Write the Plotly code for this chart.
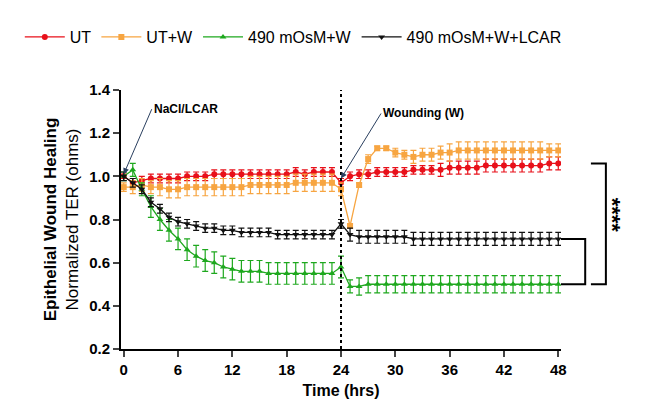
import plotly.graph_objects as go

hours = list(range(49))

ut = [1.00, 0.97, 0.98, 0.99, 0.99, 0.99, 0.99, 1.00, 1.00, 1.00, 1.01, 1.01, 1.01, 1.01, 1.01, 1.01, 1.01, 1.01, 1.01, 1.02, 1.01, 1.02, 1.02, 1.02, 0.97,
      1.00, 1.01, 1.01, 1.02, 1.02, 1.02, 1.02, 1.03, 1.03, 1.03, 1.03, 1.04, 1.04, 1.04, 1.04, 1.05, 1.05, 1.05, 1.05, 1.05, 1.05, 1.05, 1.06, 1.06]
ut_err = [0.01, 0.02, 0.02, 0.02, 0.02, 0.02, 0.02, 0.02, 0.02, 0.02, 0.02, 0.02, 0.02, 0.02, 0.02, 0.02, 0.02, 0.02, 0.02, 0.02, 0.02, 0.02, 0.02, 0.02, 0.02,
          0.02, 0.02, 0.02, 0.02, 0.02, 0.02, 0.02, 0.02, 0.02, 0.02, 0.03, 0.03, 0.03, 0.03, 0.03, 0.03, 0.03, 0.03, 0.03, 0.03, 0.03, 0.03, 0.03, 0.03]

ut_w = [0.95, 0.95, 0.96, 0.95, 0.95, 0.94, 0.94, 0.95, 0.95, 0.95, 0.95, 0.95, 0.95, 0.95, 0.96, 0.96, 0.96, 0.96, 0.96, 0.97, 0.97, 0.97, 0.97, 0.97, 0.94,
        0.77, 0.96, 1.08, 1.13, 1.13, 1.11, 1.10, 1.09, 1.10, 1.10, 1.11, 1.11, 1.12, 1.12, 1.12, 1.12, 1.12, 1.12, 1.12, 1.12, 1.12, 1.12, 1.12, 1.12]
ut_w_err = [0.02, 0.03, 0.03, 0.03, 0.04, 0.04, 0.04, 0.04, 0.04, 0.04, 0.04, 0.04, 0.04, 0.04, 0.04, 0.04, 0.04, 0.04, 0.04, 0.04, 0.04, 0.04, 0.04, 0.04, 0.03,
            0.01, 0.01, 0.02, 0.01, 0.01, 0.02, 0.02, 0.03, 0.03, 0.03, 0.03, 0.04, 0.04, 0.04, 0.04, 0.04, 0.04, 0.04, 0.04, 0.04, 0.04, 0.04, 0.03, 0.03]

osm = [1.00, 1.03, 0.94, 0.86, 0.80, 0.75, 0.71, 0.66, 0.63, 0.61, 0.60, 0.58, 0.57, 0.56, 0.56, 0.56, 0.55, 0.55, 0.55, 0.55, 0.55, 0.55, 0.55, 0.55, 0.58,
       0.49, 0.49, 0.50, 0.50, 0.50, 0.50, 0.50, 0.50, 0.50, 0.50, 0.50, 0.50, 0.50, 0.50, 0.50, 0.50, 0.50, 0.50, 0.50, 0.50, 0.50, 0.50, 0.50, 0.50]
osm_err = [0.02, 0.03, 0.03, 0.05, 0.05, 0.05, 0.05, 0.05, 0.05, 0.05, 0.05, 0.05, 0.05, 0.05, 0.05, 0.05, 0.05, 0.05, 0.05, 0.05, 0.05, 0.05, 0.05, 0.05, 0.05,
           0.03, 0.04, 0.04, 0.04, 0.04, 0.04, 0.04, 0.04, 0.04, 0.04, 0.04, 0.04, 0.04, 0.04, 0.04, 0.04, 0.04, 0.04, 0.04, 0.04, 0.04, 0.04, 0.04, 0.04]

lcar = [1.00, 0.97, 0.94, 0.88, 0.85, 0.81, 0.79, 0.78, 0.77, 0.76, 0.76, 0.75, 0.75, 0.74, 0.74, 0.74, 0.74, 0.73, 0.73, 0.73, 0.73, 0.73, 0.73, 0.73, 0.78,
        0.73, 0.72, 0.72, 0.72, 0.72, 0.72, 0.72, 0.71, 0.71, 0.71, 0.71, 0.71, 0.71, 0.71, 0.71, 0.71, 0.71, 0.71, 0.71, 0.71, 0.71, 0.71, 0.71, 0.71]
lcar_err = [0.02, 0.02, 0.02, 0.02, 0.02, 0.02, 0.02, 0.02, 0.02, 0.02, 0.02, 0.02, 0.02, 0.02, 0.02, 0.02, 0.02, 0.02, 0.02, 0.02, 0.02, 0.02, 0.02, 0.02, 0.02,
            0.03, 0.03, 0.03, 0.03, 0.03, 0.03, 0.03, 0.03, 0.03, 0.03, 0.03, 0.03, 0.03, 0.03, 0.03, 0.03, 0.03, 0.03, 0.03, 0.03, 0.03, 0.03, 0.03, 0.03]

x_ticks = list(range(0, 49, 6))
y_ticks = [0.2, 0.4, 0.6, 0.8, 1.0, 1.2, 1.4]

series = [
    ("UT", ut, ut_err, "#e8101a", "circle"),
    ("UT+W", ut_w, ut_w_err, "#f7a541", "square"),
    ("490 mOsM+W", osm, osm_err, "#1ea81e", "triangle-up"),
    ("490 mOsM+W+LCAR", lcar, lcar_err, "#111111", "triangle-down"),
]

fig = go.Figure()
for name, y, err, col, sym in series:
    fig.add_trace(go.Scatter(
        x=hours, y=y, name=name, mode="lines+markers",
        line=dict(color=col, width=1.3),
        marker=dict(color=col, symbol=sym, size=6),
        error_y=dict(type="data", array=err, color=col, thickness=1.2, width=3),
    ))

# wounding line
fig.add_shape(type="line", x0=24, x1=24, y0=0.2, y1=1.4, xref="x", yref="y",
              line=dict(color="black", width=2, dash="dot"))

# significance brackets, x in paper coords so they sit right of the plot
def bracket(x0, x1, y0, y1):
    fig.add_shape(type="path", xref="paper", yref="paper",
                  path=f"M {x0},{y0} L {x1},{y0} L {x1},{y1} L {x0},{y1}",
                  line=dict(color="black", width=2))

def ypap(v):
    return (v - 0.2) / 1.2

bracket(1.0, 1.055, ypap(0.71), ypap(0.50))
bracket(1.068, 1.102, ypap(1.06), ypap(0.50))

fig.add_annotation(x=1.15, y=ypap(0.82), xref="paper", yref="paper", text="<b>****</b>", textangle=90,
                   showarrow=False, font=dict(size=22, color="black"))

fig.add_annotation(x=0, y=1.01, ax=28, ay=-65, text="<b>NaCl/LCAR</b>", showarrow=True,
                   arrowhead=2, arrowsize=1.2, arrowwidth=1, xanchor="left",
                   font=dict(size=12, color="black", family="Arial"))
fig.add_annotation(x=24, y=0.99, ax=40, ay=-65, text="<b>Wounding (W)</b>", showarrow=True,
                   arrowhead=2, arrowsize=1.2, arrowwidth=1, xanchor="left",
                   font=dict(size=12, color="black", family="Arial"))

fig.update_layout(
    width=668, height=414,
    margin=dict(l=113, r=115, t=70, b=73),
    paper_bgcolor="white", plot_bgcolor="white",
    font=dict(family="Arial", size=14, color="black"),
    legend=dict(orientation="h", x=-0.23, y=1.27, xanchor="left", yanchor="top",
                font=dict(size=16), itemwidth=40, tracegroupgap=0),
    xaxis=dict(range=[-0.3, 48.3], tickvals=x_ticks, ticktext=[f"<b>{t}</b>" for t in x_ticks],
               showline=True, linecolor="black", linewidth=2, ticks="outside", tickwidth=2, ticklen=6,
               showgrid=False, zeroline=False, tickfont=dict(size=15),
               title=dict(text="<b>Time (hrs)</b>", font=dict(size=16), standoff=8)),
    yaxis=dict(range=[0.2, 1.4], tickvals=y_ticks, ticktext=[f"<b>{t:.1f}</b>" for t in y_ticks],
               showline=True, linecolor="black", linewidth=2, ticks="outside", tickwidth=2, ticklen=6,
               showgrid=False, zeroline=False, tickfont=dict(size=15),
               title=dict(text="<b>Epithelial Wound Healing</b><br>Normalized TER (ohms)",
                          font=dict(size=17), standoff=6)),
)

fig.write_html("out.html")
